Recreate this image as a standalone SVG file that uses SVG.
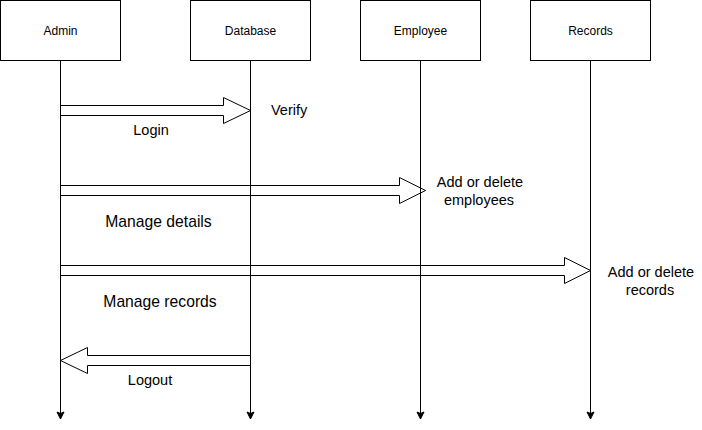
<svg xmlns="http://www.w3.org/2000/svg" width="702" height="430" viewBox="0 0 702 430">
<style>
.box{fill:#fff;stroke:#000;stroke-width:1}
.blk{fill:#fff;stroke:#000;stroke-width:1;stroke-linejoin:miter}
.life{fill:none;stroke:#000;stroke-width:1}
.t12{font-family:"Liberation Sans",Arial,sans-serif;font-size:12px;fill:#000;text-anchor:middle}
.t14{font-family:"Liberation Sans",Arial,sans-serif;font-size:14.5px;fill:#000}
.t16{font-family:"Liberation Sans",Arial,sans-serif;font-size:15.7px;fill:#000;text-anchor:middle}
.mid{text-anchor:middle}
</style>
<defs>
<marker id="ah" markerUnits="userSpaceOnUse" markerWidth="10" markerHeight="10" viewBox="0 0 10 10" refX="8" refY="5" orient="auto">
<path d="M1,1.5 L8,5 L1,8.5 L2.5,5 Z" fill="#000" stroke="#000" stroke-width="1"/>
</marker>
</defs>
<rect width="702" height="430" fill="#fff"/>
<g id="admin"><rect class="box" x="0.5" y="0.5" width="120" height="60"/><text class="t12" x="60.5" y="35">Admin</text></g>
<g id="database"><rect class="box" x="190.5" y="0.5" width="120" height="60"/><text class="t12" x="250.5" y="35">Database</text></g>
<g id="employee"><rect class="box" x="360.5" y="0.5" width="120" height="60"/><text class="t12" x="420.5" y="35">Employee</text></g>
<g id="records"><rect class="box" x="530.5" y="0.5" width="120" height="60"/><text class="t12" x="590.5" y="35">Records</text></g>
<g id="connectors">
<polygon id="login" class="blk" points="60.5,105.5 223.5,105.5 223.5,97.5 250.5,110.5 223.5,123.5 223.5,115.5 60.5,115.5"/>
<polygon id="manage-details" class="blk" points="60.5,185.5 399.5,185.5 399.5,177.5 425.5,190.5 399.5,203.5 399.5,195.5 60.5,195.5"/>
<polygon id="manage-records" class="blk" points="60.5,265.5 564.5,265.5 564.5,257.5 590.5,270.5 564.5,283.5 564.5,275.5 60.5,275.5"/>
<polygon id="logout" class="blk" points="250.5,355.5 87.5,355.5 87.5,347.5 60.5,360.5 87.5,373.5 87.5,365.5 250.5,365.5"/>
<line class="life" x1="60.5" y1="60.5" x2="60.5" y2="419" marker-end="url(#ah)"/>
<line class="life" x1="250.5" y1="60.5" x2="250.5" y2="419" marker-end="url(#ah)"/>
<line class="life" x1="420.5" y1="60.5" x2="420.5" y2="419" marker-end="url(#ah)"/>
<line class="life" x1="590.5" y1="60.5" x2="590.5" y2="419" marker-end="url(#ah)"/>
</g>
<g id="labels">
<text class="t14" x="271" y="115">Verify</text>
<text class="t14 mid" x="151" y="135">Login</text>
<text class="t14 mid" x="480" y="187">Add or delete</text>
<text class="t14 mid" x="479" y="205">employees</text>
<text class="t16" x="158.5" y="227">Manage details</text>
<text class="t14 mid" x="651" y="277">Add or delete</text>
<text class="t14 mid" x="650" y="295">records</text>
<text class="t16" x="160" y="307">Manage records</text>
<text class="t14 mid" x="150" y="385">Logout</text>
</g>
</svg>
